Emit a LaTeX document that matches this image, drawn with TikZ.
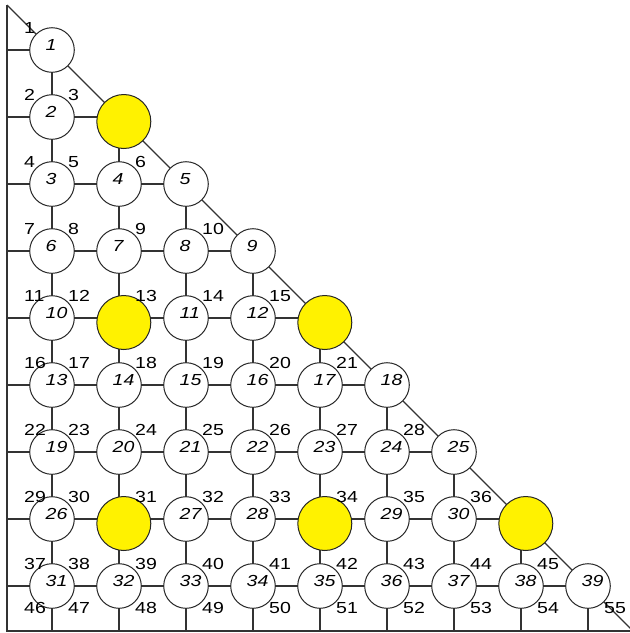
\documentclass[tikz,border=0pt]{standalone}
\usepackage{fontspec}
\newfontfamily\lblfont[FakeStretch=1.22]{Liberation Sans}
\begin{document}
\begin{tikzpicture}[x=1pt,y=-1pt,
  gridline/.style={draw=black!80, line width=1.25pt},
  wnode/.style={circle, draw=black!85, fill=white, line width=1pt, minimum size=44.6pt, inner sep=0pt},
  ynode/.style={circle, draw=black!85, fill=yellow, line width=1pt, minimum size=54pt, inner sep=0pt},
  numtext/.style={font=\lblfont\itshape\fontsize{16}{19}\selectfont, anchor=base west, inner sep=0pt, text=black},
  lbltext/.style={font=\lblfont\fontsize{16}{19}\selectfont, anchor=base west, inner sep=0pt, text=black}]
\useasboundingbox (0,0) rectangle (630,633);
\clip (0,0) rectangle (630,633);
% grid coordinates
\foreach \r in {0,...,8}{
  \foreach \c in {0,...,\r}{
    \coordinate (g-\r-\c) at ({52+67*\c},{50+67*\r});
  }
  \coordinate (L-\r) at (7,{50+67*\r});
  \coordinate (B-\r) at ({52+67*\r},631);
}
\coordinate (TL) at (7,5);
\coordinate (BL) at (7,631);
\coordinate (BR) at (632,631);
\coordinate (DE) at (636,634);
% borders
\draw[gridline] (TL) -- (BL) -- (BR);
\draw[gridline] (TL) -- (DE);
% row and column lines
\foreach \r in {0,...,8}{
  \draw[gridline] (L-\r) -- (g-\r-\r);
  \draw[gridline] (g-\r-\r) -- (B-\r);
}
% white nodes
\foreach \r/\c/\n in {0/0/1, 1/0/2,
  2/0/3, 2/1/4, 2/2/5,
  3/0/6, 3/1/7, 3/2/8, 3/3/9,
  4/0/10, 4/2/11, 4/3/12,
  5/0/13, 5/1/14, 5/2/15, 5/3/16, 5/4/17, 5/5/18,
  6/0/19, 6/1/20, 6/2/21, 6/3/22, 6/4/23, 6/5/24, 6/6/25,
  7/0/26, 7/2/27, 7/3/28, 7/5/29, 7/6/30,
  8/0/31, 8/1/32, 8/2/33, 8/3/34, 8/4/35, 8/5/36, 8/6/37, 8/7/38, 8/8/39}{
  \node[wnode] (n\n) at (g-\r-\c) {};
  \node[numtext] (t\n) at ({52+67*\c-6.5},{50+67*\r+0.9}) {\n};
}
% yellow nodes
\foreach \r/\c in {1/1, 4/1, 4/4, 7/1, 7/4, 7/7}{
  \node[ynode] (y-\r-\c) at ({52+67*\c+4.8},{50+67*\r+4.5}) {};
}
% region labels
\foreach \r in {0,...,8}{
  \foreach \k in {0,...,\r}{
    \pgfmathtruncatemacro\lab{\r*(\r+1)/2+1+\k}
    \pgfmathsetmacro\lx{\k==0 ? 24 : 52+67*(\k-1)+16}
    \node[lbltext] (l\lab) at (\lx,{50+67*\r-16.5}) {\lab};
  }
}
\foreach \k in {0,...,9}{
  \pgfmathtruncatemacro\lab{46+\k}
  \pgfmathsetmacro\lx{\k==0 ? 24 : 52+67*(\k-1)+16}
  \node[lbltext] (l\lab) at (\lx,613) {\lab};
}
\end{tikzpicture}
\end{document}
